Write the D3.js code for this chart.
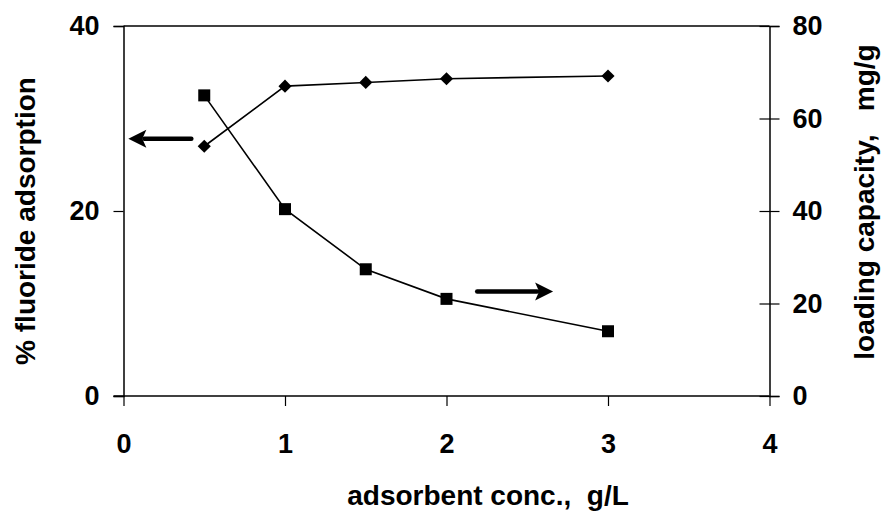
<!DOCTYPE html>
<html lang="en">
<head>
<meta charset="UTF-8">
<title>Fluoride adsorption vs adsorbent concentration</title>
<script src="https://d3js.org/d3.v7.min.js"></script>
<style>
    body { margin: 0; background: #fff; }
    svg text { font-family: "Liberation Sans", Arial, sans-serif; font-weight: bold; fill: #000; }
</style>
</head>
<body>
<div id="chart"></div>
<script>
// data
const conc = [0.5, 1, 1.5, 2, 3];                 // adsorbent conc., g/L
const adsorption = [27, 33.5, 33.9, 34.3, 34.6];   // % fluoride adsorption (left axis)
const loading = [65, 40.4, 27.4, 21, 14];          // loading capacity, mg/g (right axis)
const xTicks = [0, 1, 2, 3, 4];
const leftTicks = [0, 20, 40];
const rightTicks = [0, 20, 40, 60, 80];
// arrows pointing to each series' axis: [x0, x1, y] in data units
const leftArrow = [0.42, 0.03, 27.8];
const rightArrow = [2.19, 2.66, 22.6];

const width = 890, height = 514;
const margin = { top: 26, right: 120.5, bottom: 118, left: 123.5 };
const tickFont = 27, titleFont = 28;

const svg = d3.select("#chart").append("svg")
    .attr("width", width).attr("height", height);

const x = d3.scaleLinear().domain([0, 4]).range([margin.left, width - margin.right]);
const yL = d3.scaleLinear().domain([0, 40]).range([height - margin.bottom, margin.top]);
const yR = d3.scaleLinear().domain([0, 80]).range([height - margin.bottom, margin.top]);

const x0 = x.range()[0], x1 = x.range()[1];
const yB = yL.range()[0], yT = yL.range()[1];

// top border
svg.append("line")
    .attr("x1", x0).attr("x2", x1).attr("y1", yT).attr("y2", yT)
    .attr("stroke", "#000").attr("stroke-width", 1.5);

// axes
const xAxis = svg.append("g")
    .attr("transform", `translate(0,${yB})`)
    .call(d3.axisBottom(x).tickValues(xTicks).tickSize(10).tickPadding(28).tickFormat(d3.format("d")));

const leftAxis = svg.append("g")
    .attr("transform", `translate(${x0},0)`)
    .call(d3.axisLeft(yL).tickValues(leftTicks).tickSize(10).tickPadding(14).tickFormat(d3.format("d")));

const rightAxis = svg.append("g")
    .attr("transform", `translate(${x1},0)`)
    .call(d3.axisRight(yR).tickValues(rightTicks).tickSize(10).tickPadding(13).tickFormat(d3.format("d")));
// right ticks cross the axis
rightAxis.selectAll(".tick line").attr("x1", -10);

[xAxis, leftAxis, rightAxis].forEach(g => {
    g.attr("font-size", tickFont).attr("font-family", null);
    g.select(".domain").attr("stroke", "#000").attr("stroke-width", 1.5);
    g.selectAll(".tick line").attr("stroke", "#000").attr("stroke-width", 1.2);
});
// ticks of the left axis also stretch the x-axis line a bit
xAxis.select(".domain").attr("d", `M${x0 - 10},0H${x1}`);

// series lines
const lineL = d3.line().x((d, i) => x(conc[i])).y(d => yL(d));
const lineR = d3.line().x((d, i) => x(conc[i])).y(d => yR(d));

svg.append("path").datum(adsorption)
    .attr("d", lineL).attr("fill", "none").attr("stroke", "#000").attr("stroke-width", 1.6);
svg.append("path").datum(loading)
    .attr("d", lineR).attr("fill", "none").attr("stroke", "#000").attr("stroke-width", 1.6);

// markers
svg.selectAll(".diamond").data(adsorption).enter().append("path")
    .attr("class", "diamond")
    .attr("d", d3.symbol().type(d3.symbolDiamond2).size(110))
    .attr("transform", (d, i) => `translate(${x(conc[i])},${yL(d)})`)
    .attr("fill", "#000");

svg.selectAll(".square").data(loading).enter().append("rect")
    .attr("class", "square")
    .attr("x", (d, i) => x(conc[i]) - 6).attr("y", d => yR(d) - 6)
    .attr("width", 12).attr("height", 12)
    .attr("fill", "#000");

// arrows
function arrow(xa, xb, yv) {
    const dir = Math.sign(xb - xa);
    const head = 18, half = 9;
    svg.append("line")
        .attr("x1", xa).attr("x2", xb - dir * head + dir * 2).attr("y1", yv).attr("y2", yv)
        .attr("stroke", "#000").attr("stroke-width", 4.5).attr("stroke-linecap", "round");
    svg.append("path")
        .attr("d", `M${xb},${yv}L${xb - dir * head},${yv - half}L${xb - dir * (head - 4)},${yv}L${xb - dir * head},${yv + half}Z`)
        .attr("fill", "#000");
}
arrow(x(leftArrow[0]), x(leftArrow[1]), yL(leftArrow[2]));
arrow(x(rightArrow[0]), x(rightArrow[1]), yR(rightArrow[2]));

// axis titles
svg.append("text")
    .attr("x", 488).attr("y", 505)
    .attr("text-anchor", "middle")
    .attr("font-size", titleFont)
    .attr("xml:space", "preserve")
    .text("adsorbent conc.,  g/L");

svg.append("text")
    .attr("transform", "translate(35,221) rotate(-90)")
    .attr("text-anchor", "middle")
    .attr("font-size", titleFont)
    .text("% fluoride adsorption");

svg.append("text")
    .attr("transform", "translate(874,202) rotate(-90)")
    .attr("text-anchor", "middle")
    .attr("font-size", titleFont)
    .attr("xml:space", "preserve")
    .text("loading capacity,   mg/g");
</script>
</body>
</html>
